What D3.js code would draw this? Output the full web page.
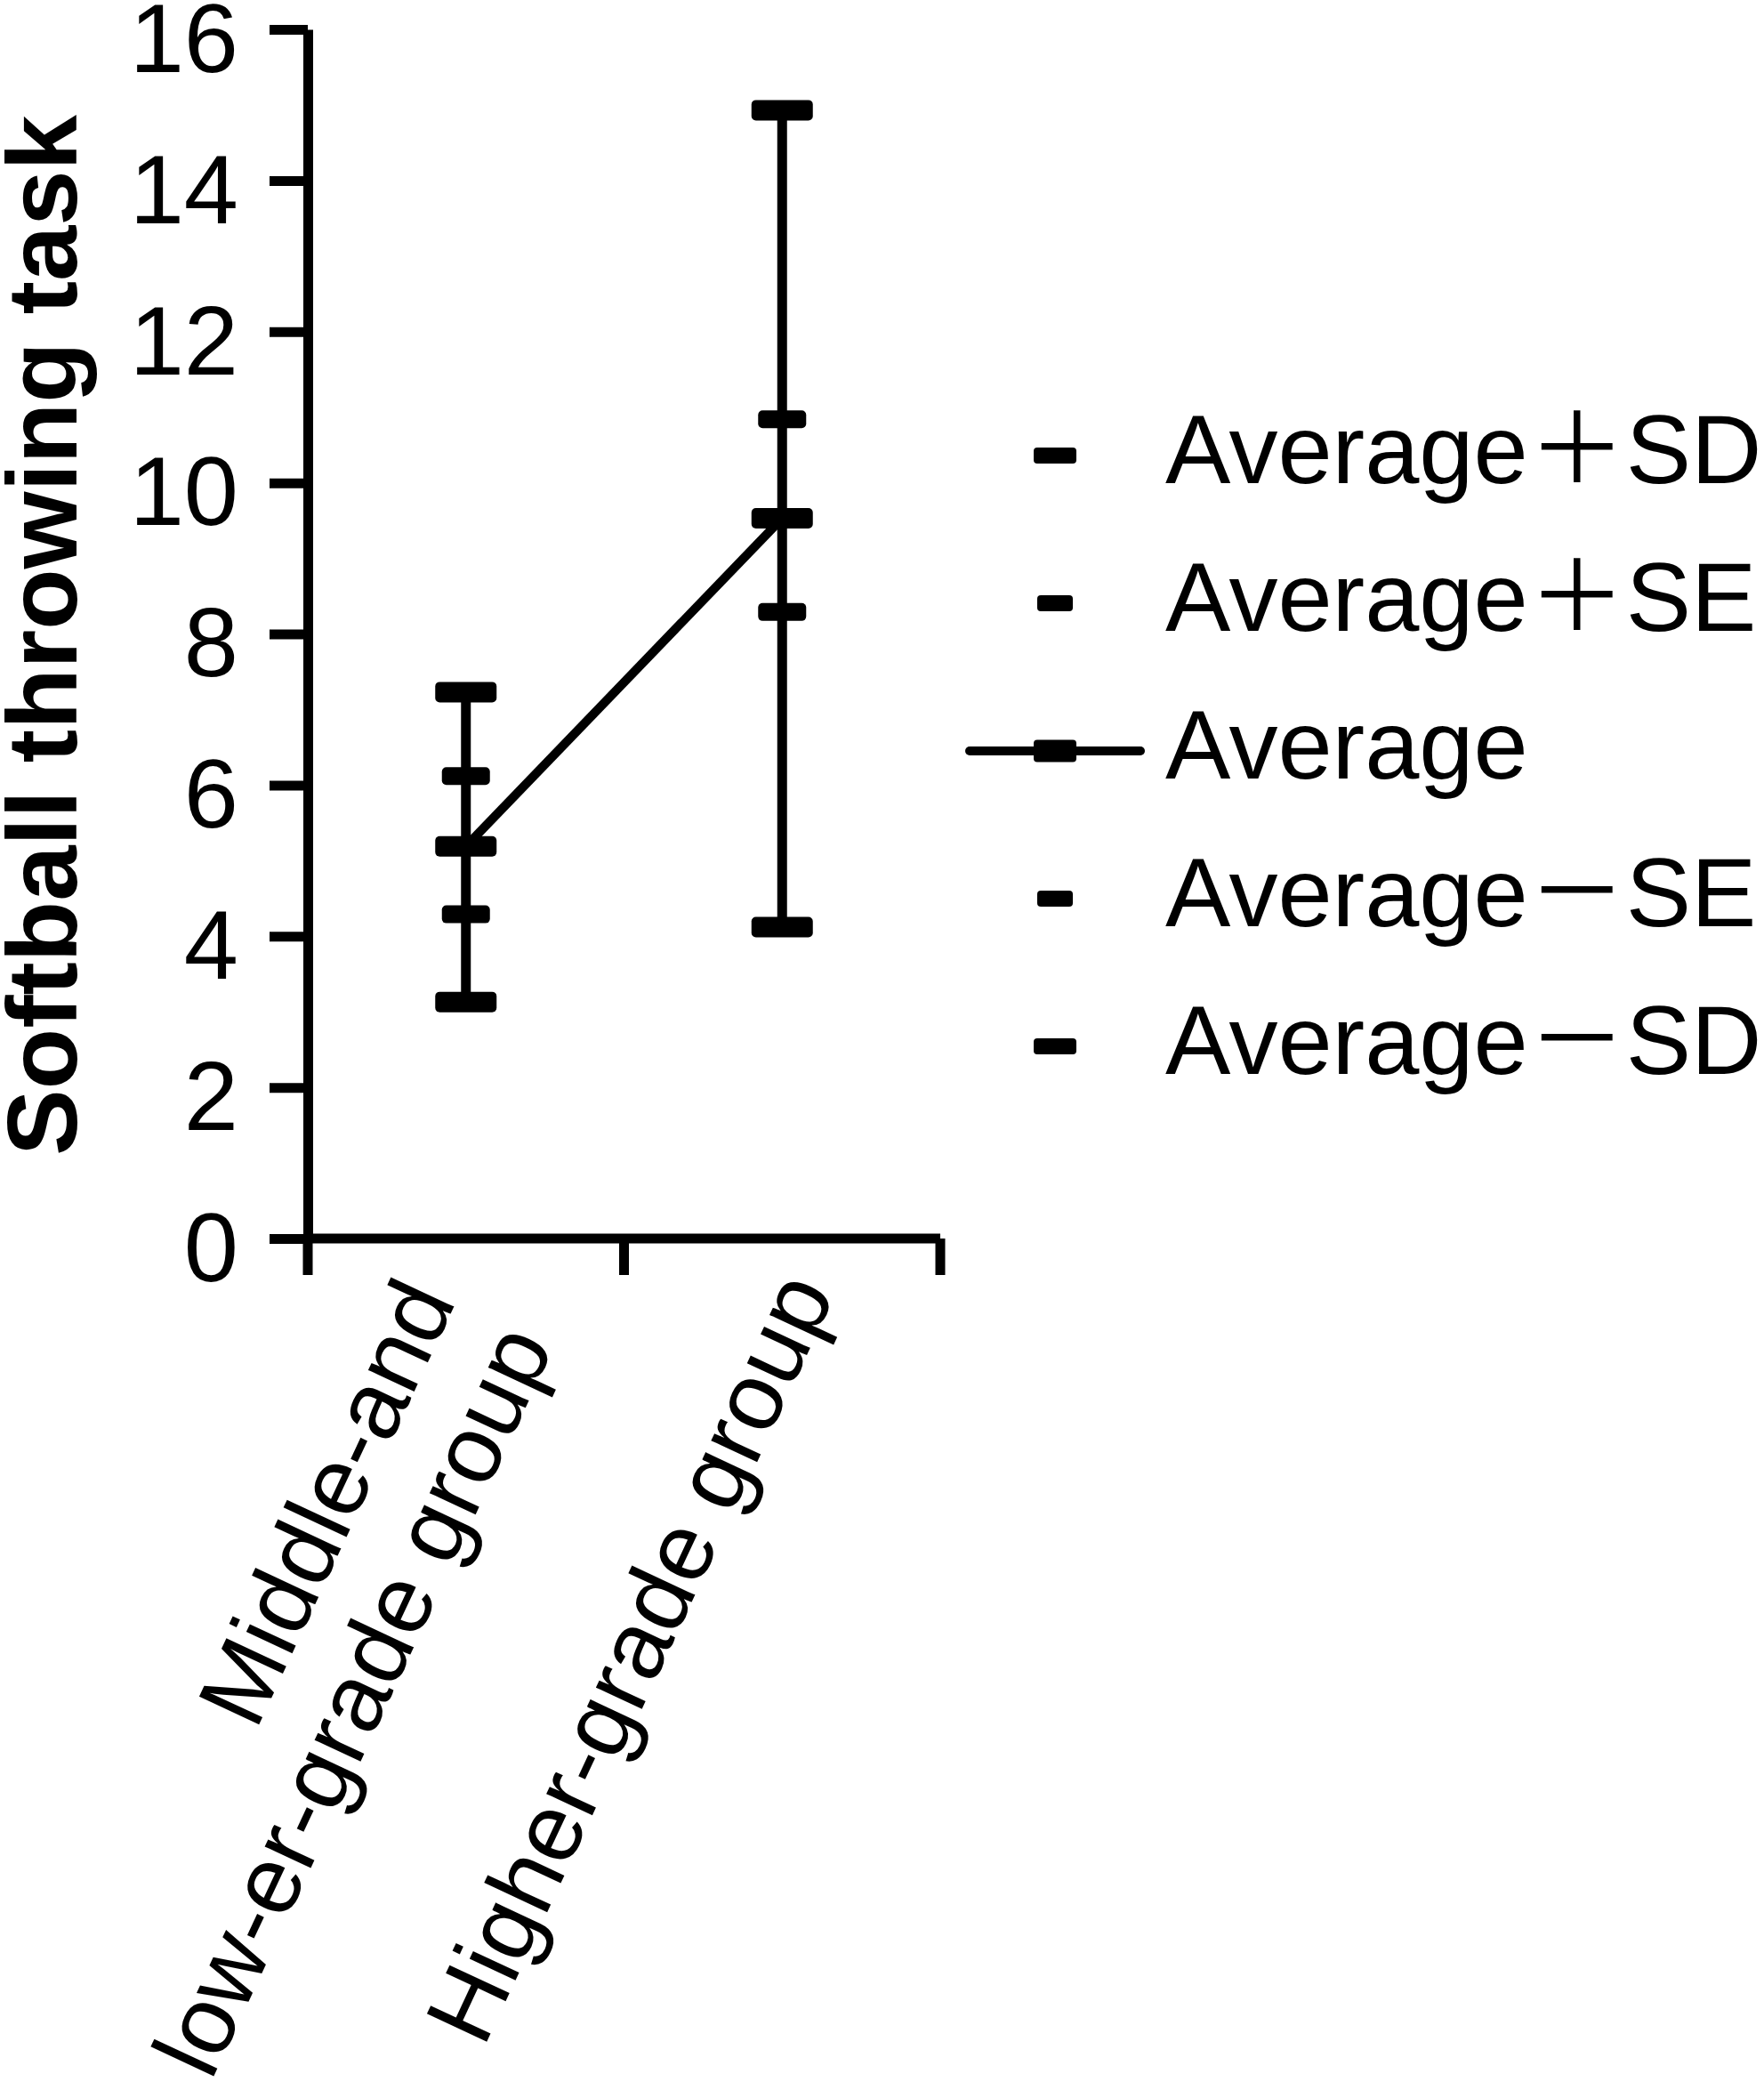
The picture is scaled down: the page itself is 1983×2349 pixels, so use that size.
<!DOCTYPE html>
<html lang="en">
<head>
<meta charset="UTF-8">
<title>Softball throwing task</title>
<script src="https://d3js.org/d3.v7.min.js"></script>
<style>
    body { margin: 0; background: #fff; }
    svg { display: block; }
    text { font-family: "Liberation Sans", Arial, "Noto Sans CJK JP", sans-serif; fill: #000; }
</style>
</head>
<body>
<div class="container"></div>
<script>
    // values
    const categories = ["Middle-and low-er-grade group", "Higher-grade group"];
    const categoryLines = [["Middle-and", "low-er-grade group"], ["Higher-grade group"]];
    const averages = [5.19, 9.53];
    const plusSD = [7.23, 14.93];
    const plusSE = [6.12, 10.84];
    const minusSE = [4.29, 8.29];
    const minusSD = [3.13, 4.12];
    const yTicks = [0, 2, 4, 6, 8, 10, 12, 14, 16];
    const legendLabels = ["Average＋SD", "Average＋SE", "Average", "Average－SE", "Average－SD"];
    const legendKinds = ["sd", "se", "avg", "se", "sd"];

    const W = 1983, H = 2349;
    const svg = d3.select(".container")
        .append("svg")
        .attr("width", W)
        .attr("height", H)
        .attr("viewBox", `0 0 ${W} ${H}`);

    const x = d3.scaleBand()
        .domain(categories)
        .range([346, 1057])
        .padding(0);

    const y = d3.scaleLinear()
        .domain([0, 16])
        .range([1392, 33]);

    const cx = i => x(categories[i]) + x.bandwidth() / 2;

    // y axis
    const yAxis = svg.append("g")
        .attr("transform", `translate(${x.range()[0]},0)`)
        .call(d3.axisLeft(y).tickValues(yTicks).tickSize(43).tickSizeOuter(0).tickPadding(35));
    yAxis.select(".domain").attr("stroke-width", 11).attr("stroke", "#000");
    yAxis.selectAll(".tick line").attr("stroke-width", 11).attr("stroke", "#000");
    yAxis.selectAll(".tick text")
        .attr("font-size", 110)
        .attr("dy", "0.43em")
        .attr("font-family", "Liberation Sans, Arial, sans-serif")
        .attr("fill", "#000");

    // x axis: line plus ticks at band edges
    const xEdges = categories.map(c => x(c)).concat([x.range()[1]]);
    svg.append("line")
        .attr("x1", x.range()[0]).attr("x2", x.range()[1])
        .attr("y1", y(0)).attr("y2", y(0))
        .attr("stroke", "#000").attr("stroke-width", 11);
    svg.append("g")
        .selectAll("line")
        .data(xEdges)
        .join("line")
        .attr("x1", d => d).attr("x2", d => d)
        .attr("y1", y(0)).attr("y2", y(0) + 41)
        .attr("stroke", "#000").attr("stroke-width", 11);

    // category labels, rotated; the two-line label sits a little further down its slope
    const labelSlide = [37, 0];
    svg.append("g")
        .selectAll("text")
        .data(categoryLines)
        .join("text")
        .attr("text-anchor", "end")
        .attr("font-size", 108)
        .attr("transform", (d, i) => `translate(${cx(i) + 60},${y(0) + 62}) rotate(-65)`)
        .each(function (d, i) {
            d3.select(this).selectAll("tspan")
                .data(d.map((s, j) => ({ s, off: (j - (d.length - 1) / 2) * 1.12 })))
                .join("tspan")
                .attr("x", -labelSlide[i])
                .attr("y", t => `${t.off}em`)
                .text(t => t.s);
        });

    // y axis title
    svg.append("text")
        .attr("transform", `translate(86,714) rotate(-90)`)
        .attr("text-anchor", "middle")
        .attr("font-size", 112)
        .attr("font-weight", "bold")
        .text("Softball throwing task");

    // error bars
    const plot = svg.append("g");
    plot.selectAll(".bar")
        .data(averages)
        .join("line")
        .attr("class", "bar")
        .attr("x1", (d, i) => cx(i)).attr("x2", (d, i) => cx(i))
        .attr("y1", (d, i) => y(minusSD[i])).attr("y2", (d, i) => y(plusSD[i]))
        .attr("stroke", "#000").attr("stroke-width", 11);

    plot.append("path")
        .datum(averages)
        .attr("d", d3.line().x((d, i) => cx(i)).y(d => y(d)))
        .attr("fill", "none")
        .attr("stroke", "#000")
        .attr("stroke-width", 10);

    const capSize = { sd: [69, 23], se: [54, 20], avg: [69, 23] };
    const capSeries = [
        { vals: plusSD, kind: "sd" },
        { vals: plusSE, kind: "se" },
        { vals: averages, kind: "avg" },
        { vals: minusSE, kind: "se" },
        { vals: minusSD, kind: "sd" }
    ];
    capSeries.forEach(s => {
        const [w, h] = capSize[s.kind];
        plot.append("g")
            .selectAll("rect")
            .data(s.vals)
            .join("rect")
            .attr("x", (d, i) => cx(i) - w / 2)
            .attr("y", d => y(d) - h / 2)
            .attr("width", w)
            .attr("height", h)
            .attr("rx", 5)
            .attr("fill", "#000");
    });

    // legend
    const legSize = { sd: [48, 18], se: [40, 18], avg: [48, 25] };
    const leg = svg.append("g")
        .selectAll("g")
        .data(legendLabels)
        .join("g")
        .attr("transform", (d, i) => `translate(0,${512 + i * 166})`);
    leg.filter((d, i) => legendKinds[i] === "avg")
        .append("line")
        .attr("x1", 1090).attr("x2", 1282)
        .attr("y1", 0).attr("y2", 0)
        .attr("stroke", "#000").attr("stroke-width", 10)
        .attr("stroke-linecap", "round");
    leg.append("rect")
        .attr("x", (d, i) => 1186 - legSize[legendKinds[i]][0] / 2)
        .attr("y", (d, i) => -legSize[legendKinds[i]][1] / 2)
        .attr("width", (d, i) => legSize[legendKinds[i]][0])
        .attr("height", (d, i) => legSize[legendKinds[i]][1])
        .attr("rx", 4)
        .attr("fill", "#000");
    leg.append("text")
        .attr("x", 1310)
        .attr("y", 31)
        .attr("font-size", 110)
        .text(d => d);
</script>
</body>
</html>
